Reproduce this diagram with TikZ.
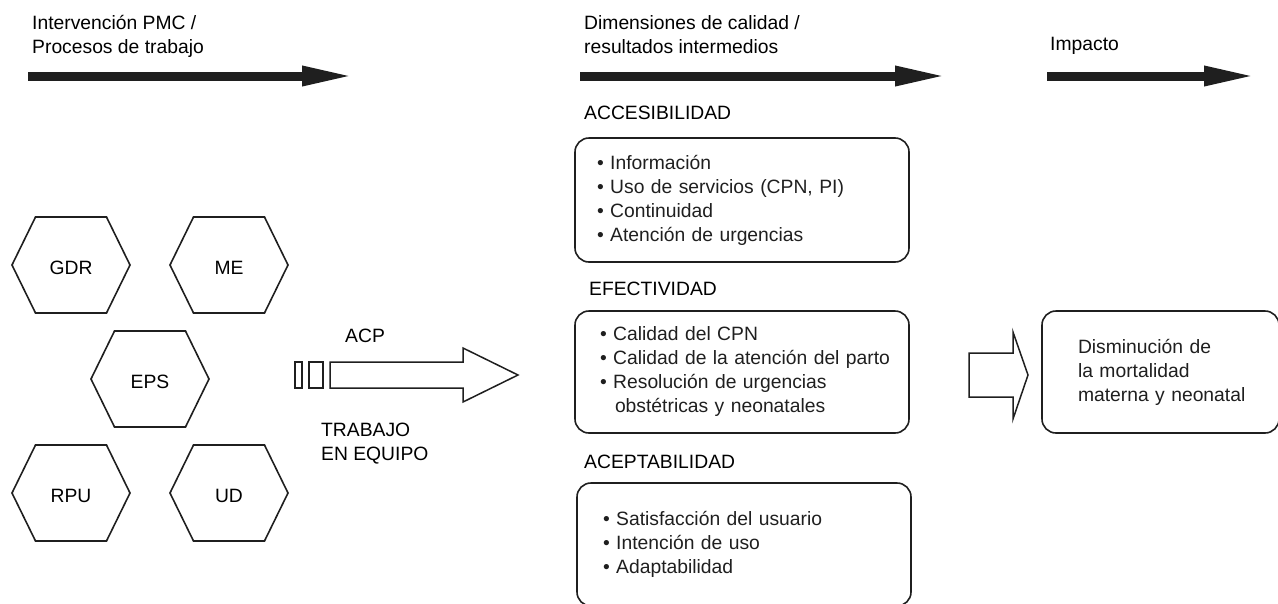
\documentclass[tikz,border=0pt]{standalone}
\usepackage{fontspec}
\setmainfont{Liberation Sans}
\usetikzlibrary{arrows.meta,positioning}
\tikzset{
    ink/.style={black!88},
    outline/.style={ink,line width=1.6pt},
    headarr/.style={ink,line width=9pt,-{Triangle[length=53pt,width=18pt]}},
    hollowarr/.style={ink,line width=1.5pt,fill=white},
    txt/.style={inner sep=0pt,anchor=base west},
    hexline/.style={outline,line join=miter},
    dimbox/.style={draw,outline,rounded corners=14pt,inner sep=0pt,align=left},
}
\tikzstyle{every node}=[font=\fontsize{19.3}{24}\selectfont]
\begin{document}
\begin{tikzpicture}[x=1pt,y=-1pt]
        \useasboundingbox (0,0) rectangle (1278,603);
        % headings and their arrows
        \node[txt,align=left] (proc) at (32,53) {Intervención PMC /\\Procesos de trabajo};
        \node[txt,align=left] (dim) at (584,53) {Dimensiones de calidad /\\resultados intermedios};
        \node[txt] (imp) at (1050,50) {Impacto};
        \foreach \a/\b/\n in {28/355/proc,580/948/dim,1047/1257/imp}{
            \coordinate (\n0) at (\a,76);
            \coordinate (\n1) at (\b,76);
            \draw[headarr] (\n0) -- (\n1);
        }
        
        % work processes
        \foreach \x/\y/\n in {71/265/GDR,229/265/ME,150/379/EPS,71/493/RPU,229/493/UD}{
            \draw[hexline] (\x-59,\y) -- (\x-35.5,\y-48) -- (\x+35.5,\y-48) -- (\x+59,\y)
                -- (\x+35.5,\y+48) -- (\x-35.5,\y+48) -- cycle;
            \node[inner sep=0pt] (\n) at (\x,\y+3) {\n};
        }
        
        \draw[hollowarr] (295,362) rectangle (302,388) (309,362) rectangle (323,388);
        \draw[hollowarr] (330,362) -- (463,362) -- (463,348) -- (518,375) -- (463,402) -- (463,388) -- (330,388) -- cycle;
        \node[txt] (acp) at (345,342) {ACP};
        \node[txt,align=left] (team) at (321,460) {TRABAJO\\EN EQUIPO};
        
        % quality dimensions
        \node[txt] (acctitle) at (584,119) {ACCESIBILIDAD};
        \node[txt] (efetitle) at (589,295) {EFECTIVIDAD};
        \node[txt] (acetitle) at (584,468) {ACEPTABILIDAD};
        \node[dimbox,minimum width=334pt,minimum height=124pt,text width=290pt] (acc) at (742,200)
            {• Información\\• Uso de servicios (CPN, PI)\\• Continuidad\\• Atención de urgencias};
        \node[dimbox,minimum width=334pt,minimum height=122pt,text width=284pt] (efe) at (742,372)
            {• Calidad del CPN\\\mbox{• Calidad de la atención del parto}\\• Resolución de urgencias\\\hspace*{15pt}obstétricas y neonatales};
        \node[dimbox,minimum width=334pt,minimum height=123pt,text width=282pt] (ace) at (744,544.5)
            {• Satisfacción del usuario\\• Intención de uso\\• Adaptabilidad};
        
        % impact
        \draw[hollowarr] (969,353) -- (1013,353) -- (1013,332) -- (1028,375) -- (1013,419) -- (1013,397) -- (969,397) -- cycle;
        \node[dimbox,minimum width=237pt,minimum height=122pt,text width=165pt] (dism) at (1160.5,372)
            {Disminución de\\la mortalidad\\\mbox{materna y neonatal}};
    \end{tikzpicture}
\end{document}
